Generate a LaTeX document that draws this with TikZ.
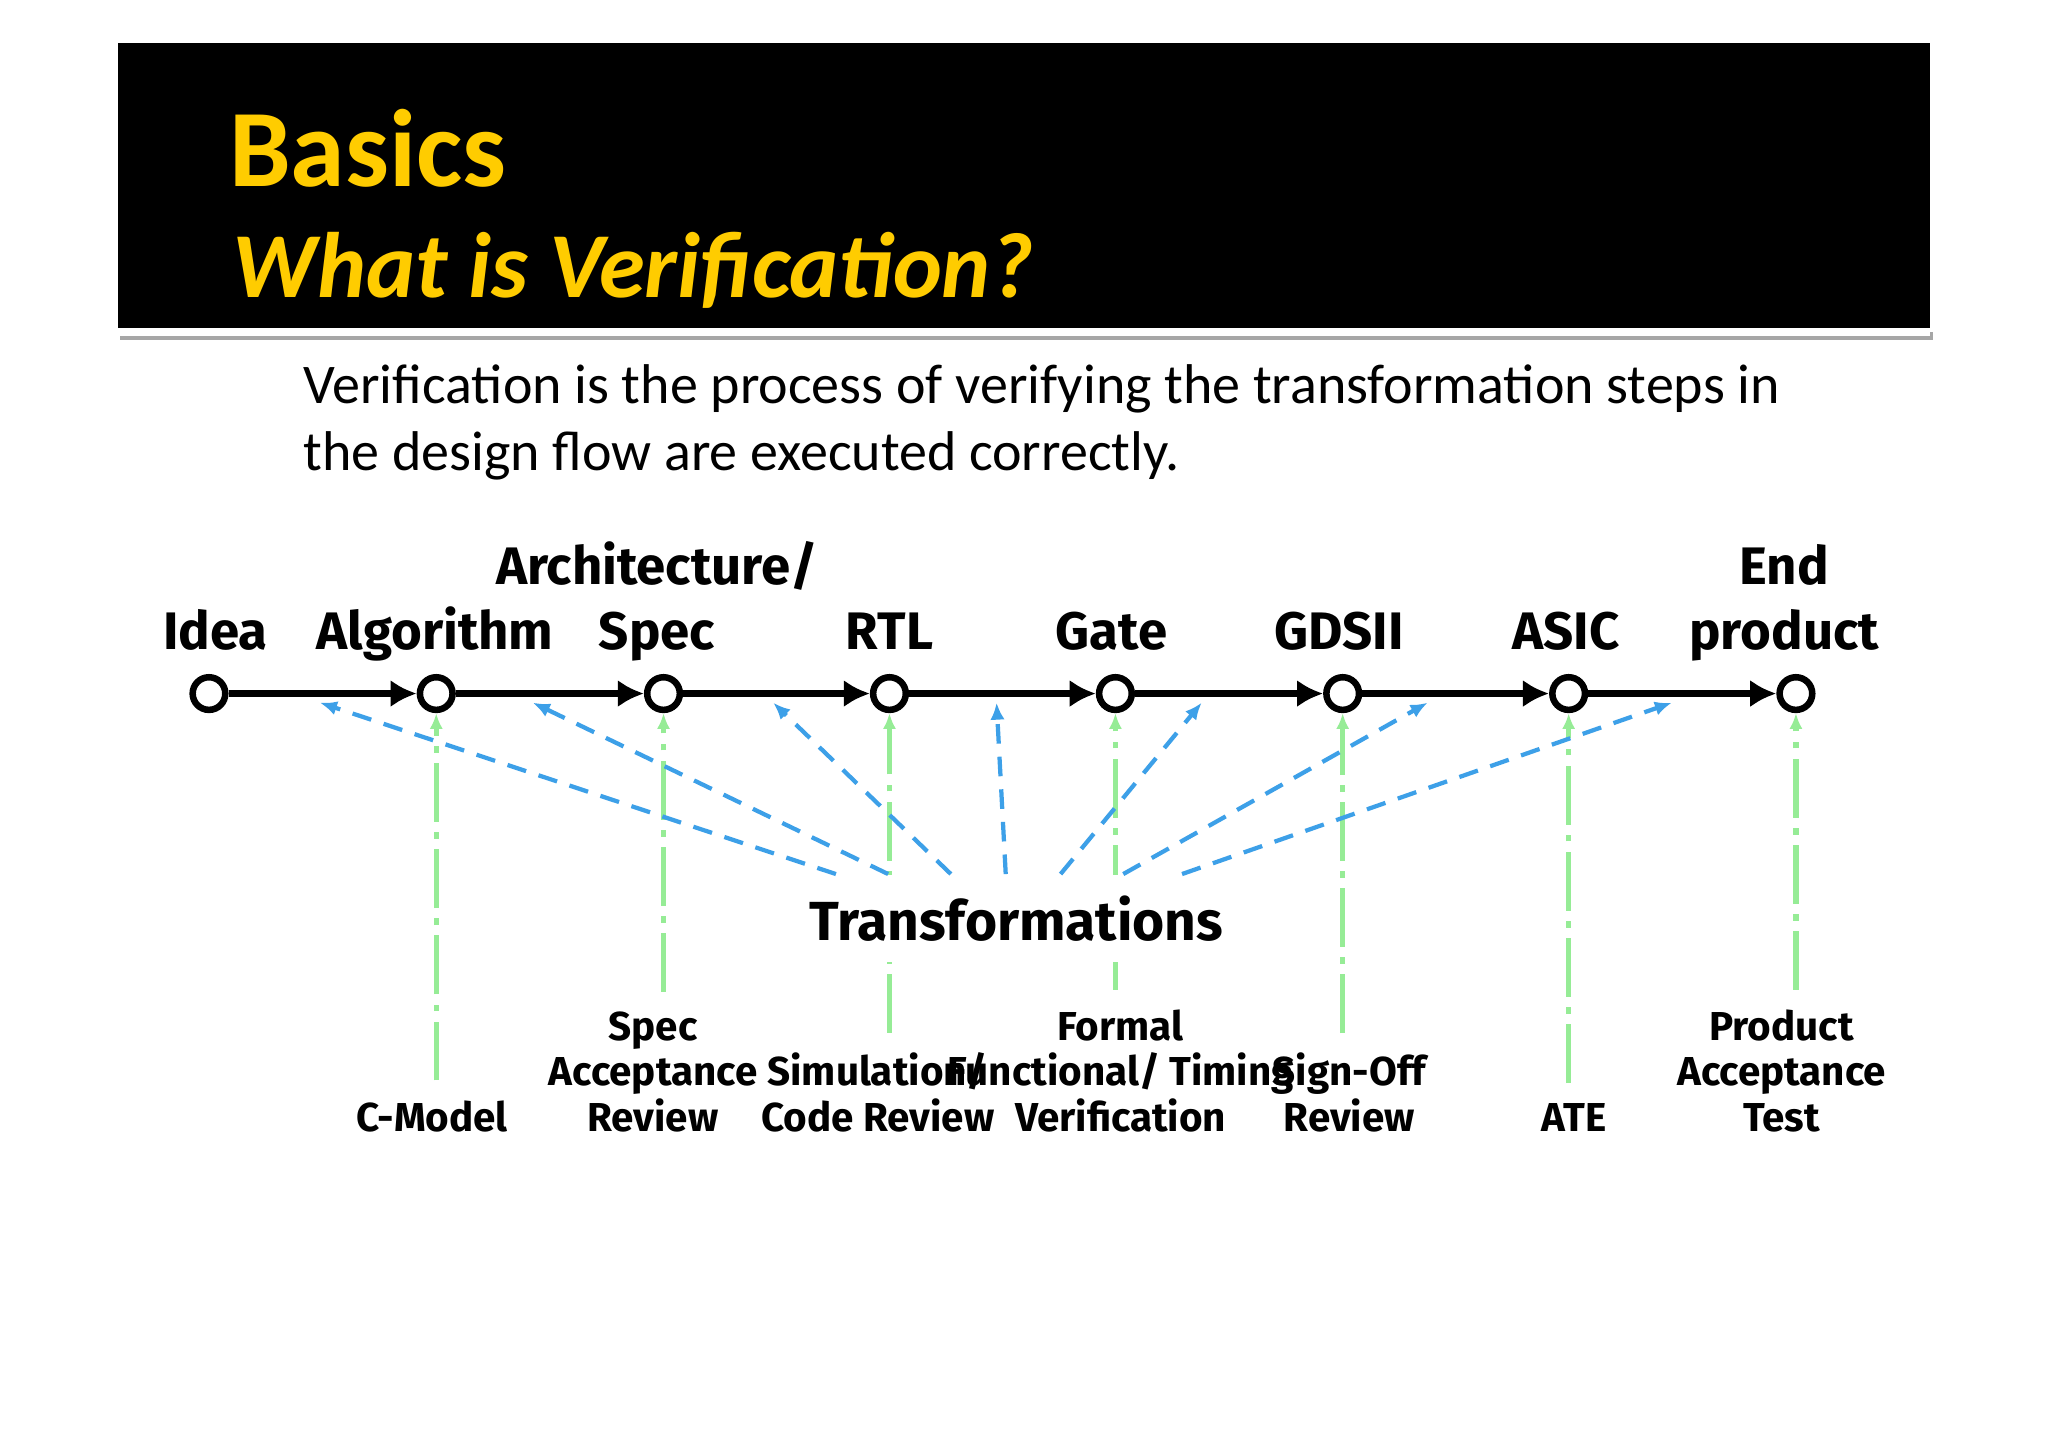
\documentclass[tikz,border=0pt]{standalone}
\usepackage{fontspec}
\setmainfont{Carlito}
\newfontfamily\comic{Fira Sans}
\usetikzlibrary{arrows.meta}
\definecolor{titleyellow}{RGB}{255,204,0}
\definecolor{xformblue}{RGB}{61,160,232}
\definecolor{checkgreen}{RGB}{150,236,150}

\tikzset{
  stage/.style={circle,draw,fill=white,line width=0.1cm,minimum size=0.5cm,inner sep=0pt},
  flow/.style={line width=0.1cm,-{Latex[length=0.4cm,width=0.42cm]}},
  toplbl/.style={font=\comic\bfseries\fontsize{23}{28}\selectfont,align=center,anchor=base,inner sep=0pt},
  botlbl/.style={font=\comic\bfseries\fontsize{17.6}{19.7}\selectfont,align=center,anchor=base,inner sep=0pt},
  xform/.style={draw=xformblue,line width=0.065cm,dash pattern=on 0.3cm off 0.2cm,-{Latex[length=0.26cm,width=0.22cm]}},
  check/.style={draw=checkgreen,line width=0.08cm,dash pattern=on 0.9cm off 0.16cm on 0.1cm off 0.16cm,
    -{Latex[length=0.24cm,width=0.2cm]},shorten <=0.3cm},
}

\begin{document}
\begin{tikzpicture}[x=0.02cm,y=-0.02cm]
\useasboundingbox[fill=white] (0,0) rectangle (1568,1108);

% header bar
\fill[black!35] (92,254) rectangle (1480,260);
\fill[white] (90,251) rectangle (1478,257);
\fill[black] (90,33) rectangle (1478,251);
\node[anchor=base west,inner sep=0pt,text=titleyellow,font=\bfseries\fontsize{48}{48}\selectfont] (basics) at (175,143) {Basics};
\node[anchor=base west,inner sep=0pt,text=titleyellow,font=\bfseries\itshape\fontsize{40.5}{40.5}\selectfont] (what) at (178,228) {What is Verification?};

% definition
\node[anchor=north west,inner sep=0pt,align=left,font=\fontsize{24.4}{29}\selectfont] (defn) at (232,279)
  {Verification is the process of verifying the transformation steps in\\ the design flow are executed correctly.};

% design flow
\foreach \nm/\x in {idea/160,algo/334,spec/508,rtl/681,gate/854,gds/1028,asic/1201,prod/1375}
  \node[stage] (\nm) at (\x,531) {};

\node[toplbl] (idea-l) at (165,497) {Idea};
\node[toplbl] (algo-l) at (333,497) {Algorithm};
\node[toplbl] (spec-l) at (503,497) {Architecture/\\Spec};
\node[toplbl] (rtl-l) at (681,497) {RTL};
\node[toplbl] (gate-l) at (851,497) {Gate};
\node[toplbl] (gds-l) at (1025,497) {GDSII};
\node[toplbl] (asic-l) at (1199,497) {ASIC};
\node[toplbl] (prod-l) at (1366,497) {End\\product};

\foreach \a/\b in {idea/algo,algo/spec,spec/rtl,rtl/gate,gate/gds,gds/asic,asic/prod}
  \draw[flow] (\a) -- (\b);

% verification steps
\node[botlbl] (cmod) at (331,866) {C-Model};
\node[botlbl] (sar) at (500,866) {Spec\\Acceptance\\Review};
\node[botlbl] (sim) at (672,866) {Simulation/\\Code Review};
\node[botlbl] (fv) at (858,866) {Formal\\Functional/ Timing\\Verification};
\node[botlbl] (sign) at (1033,866) {Sign-Off\\Review};
\node[botlbl] (ate) at (1205,866) {ATE};
\node[botlbl] (pat) at (1364,866) {Product\\Acceptance\\Test};

\foreach \s/\l in {algo/cmod,spec/sar,rtl/sim,gate/fv,gds/sign,asic/ate,prod/pat}
  \draw[check] (\s |- \l.north) -- (\s);

% transformations
\node[font=\comic\bfseries\fontsize{24}{24}\selectfont,fill=white,inner sep=0.32cm] (trans) at (778,703) {Transformations};
\foreach \sx/\tx in {640/245,680/408,728/592,770/763,812/920,860/1093,905/1280}
  \draw[xform] (trans.north -| \sx,0) -- (\tx,538);

\end{tikzpicture}
\end{document}
